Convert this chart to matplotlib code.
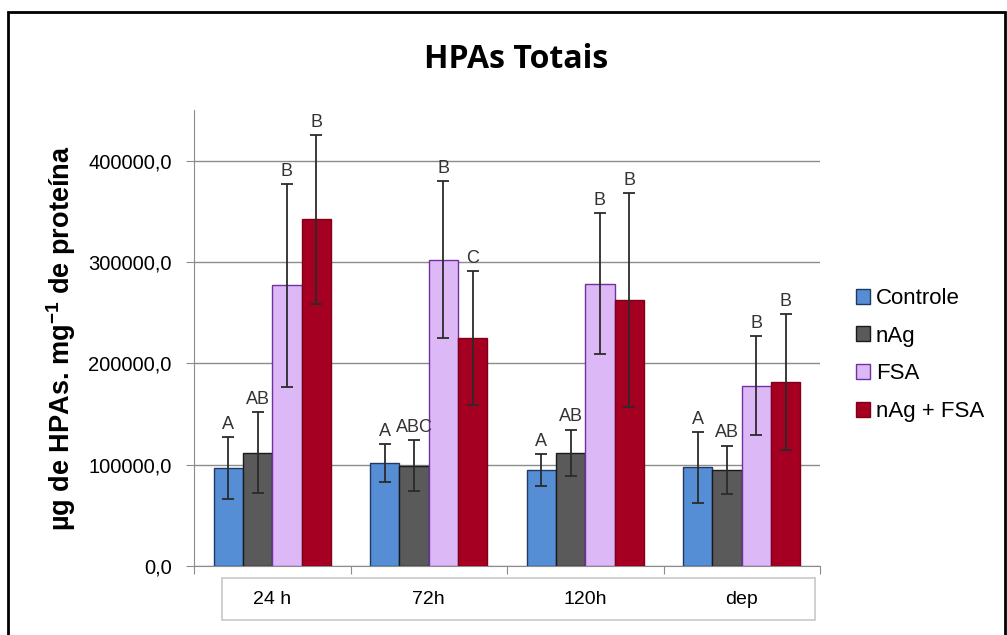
import matplotlib.pyplot as plt
import numpy as np
from matplotlib.patches import Patch, Rectangle

categories = ["24 h", "72h", "120h", "dep"]
series = ["Controle", "nAg", "FSA", "nAg + FSA"]

controle = [96500, 101500, 94900, 97500]
nag = [112000, 99100, 112000, 94900]
fsa = [277000, 302400, 278700, 177900]
nag_fsa = [342000, 225000, 262800, 181500]

controle_err = [30800, 19000, 15700, 35000]
nag_err = [40000, 25500, 22700, 24000]
fsa_err = [100000, 77500, 69600, 49000]
nag_fsa_err = [83000, 66000, 105600, 67000]

controle_lbl = ["A", "A", "A", "A"]
nag_lbl = ["AB", "ABC", "AB", "AB"]
fsa_lbl = ["B", "B", "B", "B"]
nag_fsa_lbl = ["B", "C", "B", "B"]

yticks = [0, 100000, 200000, 300000, 400000]

colors = ["#558ED5", "#5A5A5A", "#DDB8F7", "#A50021"]
edges = ["#1F3864", "#1A1A1A", "#7030A0", "#7F0018"]

values = [controle, nag, fsa, nag_fsa]
errs = [controle_err, nag_err, fsa_err, nag_fsa_err]
labels = [controle_lbl, nag_lbl, fsa_lbl, nag_fsa_lbl]

W, H = 1007, 635
fig = plt.figure(figsize=(W / 100, H / 100), dpi=100)
ax = fig.add_axes([194 / W, 1 - 566 / H, 626 / W, (566 - 110) / H])

x = np.arange(len(categories))
bw = 0.187
for i in range(len(series)):
    pos = x + (i - 1.5) * bw
    ax.bar(pos, values[i], width=bw, color=colors[i], edgecolor=edges[i],
           linewidth=1, zorder=3)
    ax.errorbar(pos, values[i], yerr=errs[i], fmt="none", ecolor="#2b2b2b",
                elinewidth=1.3, capsize=4, capthick=1.3, zorder=4)
    for p, v, e, t in zip(pos, values[i], errs[i], labels[i]):
        ax.text(p, v + e + 4000, t, ha="center", va="bottom", fontsize=13,
                color="#333333", family="Liberation Sans", zorder=5)

ax.set_xlim(-0.5, len(categories) - 0.5)
ax.set_ylim(0, 450000)
ax.set_yticks(yticks)
ax.set_yticklabels([f"{v:.1f}".replace(".", ",") for v in yticks],
                   family="Liberation Sans", fontsize=14.5)
ax.yaxis.grid(True, color="#8c8c8c", linewidth=1, zorder=0)
ax.set_xticks(np.arange(len(categories) + 1) - 0.5)
ax.set_xticklabels([])
ax.tick_params(axis="x", length=6, color="#8c8c8c", direction="out")
ax.tick_params(axis="y", length=6, color="#8c8c8c", direction="out", pad=10)
for s in ["top", "right"]:
    ax.spines[s].set_visible(False)
for s in ["left", "bottom"]:
    ax.spines[s].set_color("#8c8c8c")

# category label box
fig.patches.append(Rectangle((222 / W, 1 - 620 / H), (815 - 222) / W, 42 / H,
                             transform=fig.transFigure, fill=False,
                             edgecolor="#c8c8c8", linewidth=1.2))
for i, c in enumerate(categories):
    xf = ax.transData.transform((i, 0))[0] / W
    fig.text(xf, 1 - 599 / H, c, ha="center", va="center", fontsize=14,
             family="Liberation Sans")

ax.set_ylabel(r"µg de HPAs. mg$^{\mathregular{-1}}$ de proteína", fontsize=19.5,
              fontweight="bold", family="Liberation Sans")
ax.yaxis.set_label_coords(-0.185, 0.5)

fig.text(516 / W, 1 - 59 / H, "HPAs Totais", ha="center", va="center",
         fontsize=23, fontweight="bold", family="Open Sans")

handles = [Patch(facecolor=colors[i], edgecolor=edges[i]) for i in range(4)]
fig.legend(handles, series, loc="center left", bbox_to_anchor=(836 / W, 1 - 355 / H),
           frameon=False, prop={"family": "Liberation Sans", "size": 16},
           handlelength=0.65, handleheight=0.65, handletextpad=0.25,
           labelspacing=0.75)

# outer frame
fig.patches.append(Rectangle((8 / W, -0.05), (1005 - 8) / W, 1 - 12 / H + 0.05,
                             transform=fig.transFigure, fill=False,
                             edgecolor="black", linewidth=2))

fig.savefig("out.png", dpi=100)
